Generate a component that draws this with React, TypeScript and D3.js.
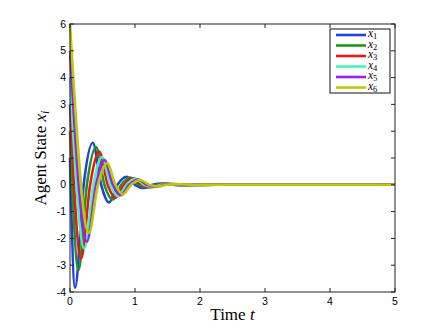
import * as d3 from "d3";

// time / value pairs (extrema and zero crossings)
const x1 = [[0, 1], [0.077, -3.84], [0.21, 0], [0.35, 1.57], [0.48, 0], [0.6, -0.66], [0.73, 0], [0.87, 0.3], [1.0, 0], [1.14, -0.12], [1.27, 0], [1.41, 0.05], [1.66, -0.015], [2.0, 0], [5, 0]];
const x2 = [[0, 2], [0.13, -3.18], [0.26, 0], [0.4, 1.41], [0.53, 0], [0.66, -0.55], [0.79, 0], [0.92, 0.27], [1.06, 0], [1.19, -0.1], [1.33, 0], [1.47, 0.04], [1.72, -0.012], [2.1, 0], [5, 0]];
const x3 = [[0, 3], [0.17, -2.76], [0.31, 0], [0.45, 1.24], [0.58, 0], [0.7, -0.48], [0.83, 0], [0.97, 0.24], [1.1, 0], [1.24, -0.09], [1.37, 0], [1.52, 0.035], [1.77, -0.01], [2.2, 0], [5, 0]];
const x4 = [[0, 4], [0.22, -2.38], [0.36, 0], [0.49, 1.04], [0.62, 0], [0.74, -0.43], [0.87, 0], [1.01, 0.22], [1.14, 0], [1.28, -0.08], [1.41, 0], [1.56, 0.03], [1.81, -0.01], [2.2, 0], [5, 0]];
const x5 = [[0, 5], [0.26, -2.12], [0.4, 0], [0.53, 0.92], [0.66, 0], [0.78, -0.39], [0.91, 0], [1.05, 0.2], [1.18, 0], [1.32, -0.07], [1.45, 0], [1.6, 0.03], [1.85, -0.01], [2.3, 0], [5, 0]];
const x6 = [[0, 6], [0.29, -1.8], [0.43, 0], [0.57, 0.8], [0.7, 0], [0.81, -0.36], [0.94, 0], [1.08, 0.18], [1.22, 0], [1.36, -0.06], [1.49, 0], [1.64, 0.025], [1.9, -0.008], [2.3, 0], [5, 0]];

const seriesNames = ["1", "2", "3", "4", "5", "6"];
const seriesData = [x1, x2, x3, x4, x5, x6];
const colors = ["#2040e0", "#1e961e", "#ee1515", "#44f5b5", "#9a20ee", "#b8cc00"];

const xTicks = [0, 1, 2, 3, 4, 5];
const yTicks = [-4, -3, -2, -1, 0, 1, 2, 3, 4, 5, 6];

const W = 436, H = 327;
const margin = {top: 24, right: 41, bottom: 35, left: 70};

const App = () => {
    const x = d3.scaleLinear().domain([0, 5]).range([margin.left, W - margin.right]);
    const y = d3.scaleLinear().domain([-4, 6]).range([H - margin.bottom, margin.top]);

    const line = d3.line<number[]>()
        .x(d => x(d[0]))
        .y(d => y(d[1]))
        .curve(d3.curveMonotoneX);

    const x0 = x(0), xEnd = x(5), yTop = y(6), yBot = y(-4);
    const tick = 4;

    // legend
    const lgX = 330, lgY = 29, lgW = 60, rowH = 10.5;

    return (
        <svg width={W} height={H} style={{position: "absolute", left: 0, top: 0, background: "#fff"}}>
            <rect x={0} y={0} width={W} height={H} fill="#fff"/>

            {seriesData.map((s, i) => (
                <path key={i} d={line(s) || ""} fill="none" stroke={colors[i]} strokeWidth={2.6}/>
            ))}

            {/* box */}
            <rect x={x0} y={yTop} width={xEnd - x0} height={yBot - yTop} fill="none" stroke="#222" strokeWidth={1}/>

            {xTicks.map(t => (
                <g key={"xt" + t}>
                    <line x1={x(t)} x2={x(t)} y1={yBot} y2={yBot - tick} stroke="#222"/>
                    <line x1={x(t)} x2={x(t)} y1={yTop} y2={yTop + tick} stroke="#222"/>
                    <text x={x(t)} y={yBot + 13} textAnchor="middle" fontFamily="Liberation Sans, Arial" fontSize={10.5}>{t}</text>
                </g>
            ))}
            {yTicks.map(t => (
                <g key={"yt" + t}>
                    <line x1={x0} x2={x0 + tick} y1={y(t)} y2={y(t)} stroke="#222"/>
                    <line x1={xEnd} x2={xEnd - tick} y1={y(t)} y2={y(t)} stroke="#222"/>
                    <text x={x0 - 4} y={y(t) + 3.5} textAnchor="end" fontFamily="Liberation Sans, Arial" fontSize={10.5}>{t}</text>
                </g>
            ))}

            <text x={(x0 + xEnd) / 2} y={H - 7} textAnchor="middle" fontFamily="Liberation Serif, serif" fontSize={17}>
                Time <tspan fontStyle="italic">t</tspan>
            </text>
            <text transform={`translate(${x0 - 24},${(yTop + yBot) / 2}) rotate(-90)`} textAnchor="middle" fontFamily="Liberation Serif, serif" fontSize={17}>
                Agent State <tspan fontStyle="italic">x</tspan><tspan fontStyle="italic" fontSize={12} dy={3}>i</tspan>
            </text>

            <rect x={lgX} y={lgY} width={lgW} height={rowH * 6 + 1} fill="#fff" stroke="#111" strokeWidth={1}/>
            {seriesNames.map((n, i) => {
                const cy = lgY + 6 + i * rowH;
                return (
                    <g key={"lg" + n}>
                        <line x1={lgX + 6} x2={lgX + 36} y1={cy} y2={cy} stroke={colors[i]} strokeWidth={2.6}/>
                        <text x={lgX + 38} y={cy + 2} fontFamily="Liberation Serif, serif" fontSize={11.5} fontStyle="italic">
                            x<tspan fontStyle="normal" fontSize={8.5} dy={2}>{n}</tspan>
                        </text>
                    </g>
                );
            })}
        </svg>
    );
};

export default App;
